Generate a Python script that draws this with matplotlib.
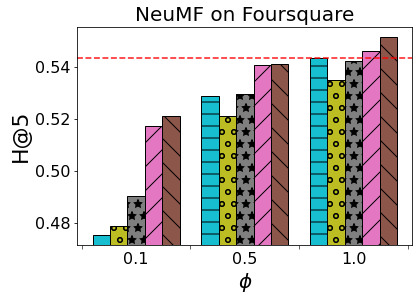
import numpy as np
import matplotlib
matplotlib.use("Agg")
import matplotlib.pyplot as plt
from matplotlib.ticker import FixedLocator

# data
groups = ["0.1", "0.5", "1.0"]
cyan_vals = [0.4754, 0.5289, 0.5435]
olive_vals = [0.4787, 0.5212, 0.5350]
gray_vals = [0.4903, 0.5297, 0.5423]
pink_vals = [0.5173, 0.5408, 0.5462]
brown_vals = [0.5212, 0.5412, 0.5515]
baseline = 0.5437

series = [cyan_vals, olive_vals, gray_vals, pink_vals, brown_vals]
colors = ["tab:cyan", "tab:olive", "tab:gray", "tab:pink", "tab:brown"]
hatches = ["-", "o", "*", "/", "\\"]

fig = plt.figure(figsize=(419 / 72, 301 / 72), dpi=72)
ax = fig.add_axes([77.3 / 419, 1 - 245 / 301, 335 / 419, 217.7 / 301])

x = np.arange(len(groups))
width = 0.16
for k, (vals, c, h) in enumerate(zip(series, colors, hatches)):
    ax.bar(x + (k - 2) * width, vals, width, color=c, edgecolor="black",
           hatch=h, linewidth=1)

ax.axhline(baseline, color="red", linestyle="--", linewidth=1.6, alpha=0.85)

ax.set_ylim(0.4714, 0.5554)
ax.set_xlim(-0.54, 2.54)
ax.set_yticks([0.48, 0.50, 0.52, 0.54])
ax.set_yticklabels(["0.48", "0.50", "0.52", "0.54"])
ax.set_xticks(x)
ax.set_xticklabels(groups)
ax.xaxis.set_minor_locator(FixedLocator([-0.5, 0.5, 1.5, 2.5]))
ax.tick_params(axis="x", which="major", length=0, pad=7)
ax.tick_params(axis="x", which="minor", length=3.5)
ax.tick_params(labelsize=16)

ax.set_title("NeuMF on Foursquare", fontsize=20)
ax.set_ylabel("H@5", fontsize=22)
ax.set_xlabel(r"$\phi$", fontsize=20)

fig.savefig("out.png", dpi=72)
